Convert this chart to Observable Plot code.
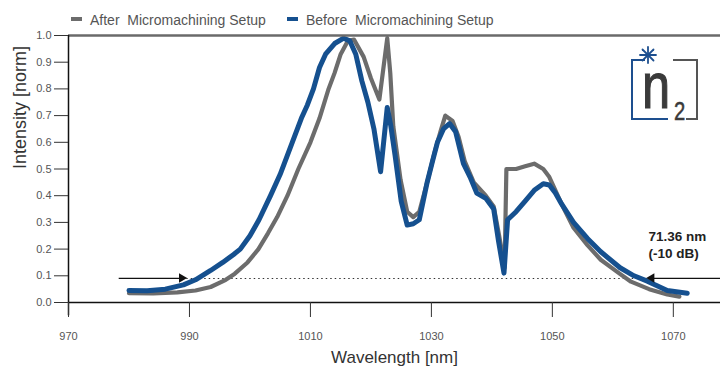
<!DOCTYPE html>
<html><head><meta charset="utf-8">
<script src="https://cdn.jsdelivr.net/npm/d3@7"></script>
<script src="https://cdn.jsdelivr.net/npm/@observablehq/plot@0.6"></script>
<style>
body{margin:0;background:#fff;font-family:"Liberation Sans",Arial,sans-serif;}
#wrap{position:relative;width:720px;height:380px;overflow:hidden;background:#fff}
#legend{height:28px;position:relative;font-size:14px;color:#555}
.item{position:absolute;top:12px;height:16px;line-height:16px;white-space:pre}
.sw{position:absolute;top:6px;width:11px;height:4px}
#logo{position:absolute;left:600px;top:30px}
</style></head><body>
<div id="wrap">
<div id="legend"></div>
<div id="chart"></div>
<svg id="logo" width="120" height="110" viewBox="0 0 120 110">
  <path d="M45,30 H32 V89 H68" fill="none" stroke="#1d4f8f" stroke-width="2"/>
  <path d="M73,30 H97 V89 H86" fill="none" stroke="#555" stroke-width="2"/>
  <g stroke="#1d4f8f" stroke-width="1.8" stroke-linecap="round">
    <line x1="48" y1="17" x2="48" y2="33"/>
    <line x1="40" y1="25" x2="56" y2="25"/>
    <line x1="42.5" y1="19.5" x2="53.5" y2="30.5"/>
    <line x1="53.5" y1="19.5" x2="42.5" y2="30.5"/>
  </g>
  <g transform="translate(42,78) scale(0.79,1)">
    <text x="0" y="0" font-size="64" fill="#3a3a3a" stroke="#3a3a3a" stroke-width="1.2" font-family="Liberation Sans, Arial">n</text>
  </g>
  <g transform="translate(74,90) scale(0.78,1)">
    <text x="0" y="0" font-size="26" fill="#3a3a3a" stroke="#3a3a3a" stroke-width="0.5" font-family="Liberation Sans, Arial">2</text>
  </g>
</svg>
</div>
<script>
// ---- data ----
const seriesNames = ["After  Micromachining Setup", "Before  Micromachining Setup"];
const seriesColors = ["#6c6c6c", "#15508f"];

const afterWavelength = [980,984,988,991,993.5,996,997.5,999.6,1001.4,1003,1004.5,1006.2,1008,1010,1011.5,1013,1014,1015,1016.2,1017.2,1018.8,1020,1021.4,1022.7,1023.2,1023.7,1024.9,1026,1027,1028,1029.3,1030.5,1031.5,1032.3,1033.5,1034.5,1035.5,1037,1039,1040.3,1041.2,1042.1,1042.4,1044,1045.5,1047,1048.5,1049.5,1050.5,1051.5,1053.5,1055.8,1058,1061,1063,1066,1069,1071];
const afterIntensity = [0.035,0.034,0.038,0.045,0.058,0.085,0.108,0.15,0.2,0.26,0.32,0.4,0.5,0.6,0.69,0.8,0.86,0.93,0.98,0.985,0.92,0.84,0.76,0.99,0.86,0.66,0.46,0.34,0.32,0.34,0.45,0.56,0.64,0.7,0.68,0.62,0.53,0.45,0.4,0.36,0.25,0.13,0.5,0.5,0.51,0.52,0.5,0.47,0.42,0.37,0.28,0.215,0.16,0.11,0.078,0.05,0.03,0.022];

const beforeWavelength = [980,983,986,989,991,993.5,995.5,997.3,998.4,1000,1001.5,1003.4,1005,1007,1008.5,1009.5,1010.5,1011.5,1012.5,1014,1015.5,1016.5,1017.5,1018.5,1019.5,1020.5,1021.6,1022.7,1023.3,1024,1025,1026,1027,1028,1029.3,1030.2,1031,1032,1033,1034,1035.3,1036.4,1037.5,1039,1040.3,1041.1,1042,1042.6,1044,1045.5,1047,1048.5,1049.5,1050.5,1051.5,1053.5,1055.8,1058,1061.2,1063.5,1065.7,1069,1072.3];
const beforeIntensity = [0.045,0.044,0.05,0.066,0.085,0.12,0.15,0.18,0.2,0.25,0.31,0.4,0.48,0.6,0.69,0.74,0.8,0.88,0.93,0.97,0.99,0.98,0.93,0.83,0.75,0.65,0.49,0.73,0.66,0.55,0.38,0.29,0.295,0.31,0.45,0.53,0.6,0.65,0.67,0.64,0.52,0.47,0.41,0.39,0.35,0.23,0.11,0.31,0.34,0.38,0.42,0.445,0.44,0.41,0.37,0.30,0.24,0.19,0.13,0.1,0.08,0.045,0.035];

const xTicks = [970, 990, 1010, 1030, 1050, 1070];
const yTicks = [0, 0.1, 0.2, 0.3, 0.4, 0.5, 0.6, 0.7, 0.8, 0.9, 1.0];
const xDomain = [970, 1077.8];
const yDomain = [0, 1];

// -10 dB width marker
const markerLevel = 0.09;
const markerLeft = 988.8, markerRight = 1066.5;
const arrowLeftStart = 978.3, arrowRightStart = 1078;
const annotationText = ["71.36 nm\n(-10 dB)"];
const annotationX = 1065.9, annotationY = 0.22;

const xTitle = "Wavelength [nm]";
const yTitle = "Intensity [norm]";

// ---- build tables ----
const after = afterWavelength.map((w, i) => ({w, v: afterIntensity[i]}));
const before = beforeWavelength.map((w, i) => ({w, v: beforeIntensity[i]}));
const arrows = [
  {x1: arrowLeftStart, x2: markerLeft, y: markerLevel, rot: 90, dx: -2},
  {x1: arrowRightStart, x2: markerRight, y: markerLevel, rot: -90, dx: 2}
];

// legend
const legend = document.getElementById("legend");
const legendPos = [{sw: 71, tx: 90}, {sw: 287, tx: 306}];
seriesNames.forEach((name, i) => {
  const s = document.createElement("div");
  s.className = "sw"; s.style.left = legendPos[i].sw + "px"; s.style.top = "17px";
  s.style.background = seriesColors[i];
  legend.appendChild(s);
  const t = document.createElement("div");
  t.className = "item"; t.style.left = legendPos[i].tx + "px"; t.textContent = name;
  legend.appendChild(t);
});

const chart = Plot.plot({
  width: 720,
  height: 352,
  marginTop: 7,
  marginBottom: 78,
  marginLeft: 68,
  marginRight: 0,
  style: {fontFamily: "Liberation Sans, Arial, sans-serif", background: "transparent", overflow: "visible"},
  x: {domain: xDomain},
  y: {domain: yDomain},
  marks: [
    Plot.ruleY([markerLevel], {x1: markerLeft, x2: markerRight, stroke: "#333", strokeWidth: 1.1, strokeDasharray: "1.5 3"}),
    Plot.line(after, {x: "w", y: "v", stroke: seriesColors[0], strokeWidth: 4.2, strokeLinejoin: "round"}),
    Plot.line(before, {x: "w", y: "v", stroke: seriesColors[1], strokeWidth: 5, strokeLinejoin: "round"}),
    Plot.link(arrows, {x1: "x1", x2: "x2", y1: "y", y2: "y", stroke: "#111", strokeWidth: 1.3}),
    Plot.dot(arrows, {x: "x2", y: "y", symbol: "triangle", rotate: "rot", dx: "dx", r: 3.5, fill: "#111", stroke: "none"}),
    Plot.ruleY([1], {stroke: "#6a6a6a", strokeWidth: 2.4}),
    Plot.ruleY([0], {stroke: "#111", strokeWidth: 1.5}),
    Plot.ruleX([970], {y1: -0.05, y2: 1, stroke: "#111", strokeWidth: 1.5}),
    Plot.axisY({ticks: yTicks, tickSize: 14, tickPadding: 3, tickFormat: d3.format(".1f"), fontSize: 11, stroke: "#333", fill: "#555", label: null}),
    Plot.axisX({ticks: xTicks, tickSize: 15, tickPadding: 15, tickFormat: d3.format("d"), fontSize: 11, stroke: "#333", fill: "#555", label: null}),
    Plot.text(annotationText, {x: annotationX, y: annotationY, text: d => d, textAnchor: "start", lineAnchor: "middle", lineHeight: 1.3, fontSize: 13.5, fontWeight: "bold", fill: "#222"}),
    Plot.text([xTitle], {frameAnchor: "bottom", text: d => d, dy: 60, fontSize: 17, fill: "#333"}),
    Plot.text([yTitle], {frameAnchor: "left", text: d => d, rotate: -90, dx: -48, fontSize: 18, fill: "#333"})
  ]
});
document.getElementById("chart").appendChild(chart);
</script>
</body></html>
